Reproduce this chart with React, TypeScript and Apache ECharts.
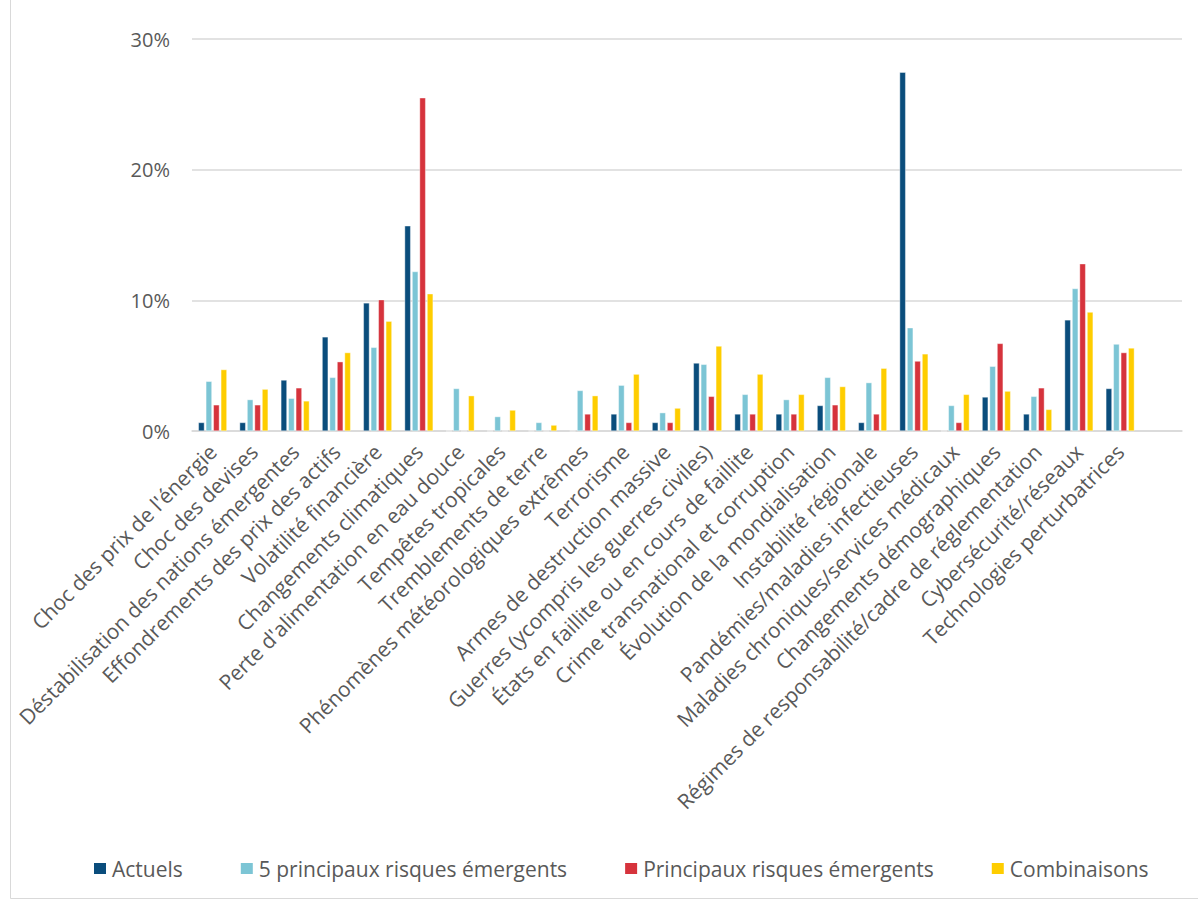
import React, { useEffect, useRef } from "react";
import * as echarts from "echarts";

const categories: string[] = [
  "Choc des prix de l'énergie",
  "Choc des devises",
  "Déstabilisation des nations émergentes",
  "Effondrements des prix des actifs",
  "Volatilité financière",
  "Changements climatiques",
  "Perte d'alimentation en eau douce",
  "Tempêtes tropicales",
  "Tremblements de terre",
  "Phénomènes météorologiques extrêmes",
  "Terrorisme",
  "Armes de destruction massive",
  "Guerres (ycompris les guerres civiles)",
  "États en faillite ou en cours de faillite",
  "Crime transnational et corruption",
  "Évolution de la mondialisation",
  "Instabilité régionale",
  "Pandémies/maladies infectieuses",
  "Maladies chroniques/services médicaux",
  "Changements démographiques",
  "Régimes de responsabilité/cadre de réglementation",
  "Cybersécurité/réseaux",
  "Technologies perturbatrices",
  "",
];

const seriesNames: string[] = [
  "Actuels",
  "5 principaux risques émergents",
  "Principaux risques émergents",
  "Combinaisons",
];

const actuels: (number | null)[] = [0.65, 0.65, 3.9, 7.2, 9.8, 15.7, 0, 0, 0, 0, 1.3, 0.65, 5.2, 1.3, 1.3, 1.95, 0.65, 27.45, 0, 2.6, 1.3, 8.5, 3.25, null];
const top5: (number | null)[] = [3.8, 2.4, 2.5, 4.1, 6.4, 12.2, 3.25, 1.1, 0.65, 3.1, 3.5, 1.4, 5.1, 2.8, 2.4, 4.1, 3.7, 7.9, 1.95, 4.95, 2.65, 10.9, 6.65, null];
const principaux: (number | null)[] = [2.0, 2.0, 3.3, 5.3, 10.05, 25.5, 0, 0, 0, 1.3, 0.65, 0.65, 2.65, 1.3, 1.3, 2.0, 1.3, 5.35, 0.65, 6.7, 3.3, 12.8, 6.0, null];
const combinaisons: (number | null)[] = [4.7, 3.2, 2.3, 6.0, 8.4, 10.5, 2.7, 1.6, 0.45, 2.7, 4.35, 1.75, 6.5, 4.35, 2.8, 3.4, 4.8, 5.9, 2.8, 3.05, 1.65, 9.1, 6.35, null];

const yTicks: number[] = [0, 10, 20, 30];

const colors = ["#0a4d7c", "#7cc5d5", "#d6333c", "#fecd00"];

export default function App() {
  const ref = useRef<HTMLDivElement>(null);
  useEffect(() => {
    document.body.style.margin = "0";
    if (!ref.current) return;
    const chart = echarts.init(ref.current, undefined, { renderer: "svg" });
    const font = "'Open Sans', 'Noto Sans', sans-serif";
    const data = [actuels, top5, principaux, combinaisons];
    chart.setOption({
      animation: false,
      backgroundColor: "#ffffff",
      textStyle: { fontFamily: font },
      color: colors,
      grid: { left: 192, right: 16, top: 39, bottom: 469, containLabel: false },
      legend: {
        left: 92,
        top: 858,
        padding: 0,
        itemWidth: 14,
        itemHeight: 13,
        itemGap: 56,
        icon: "rect",
        textStyle: { fontSize: 21, color: "#595959", fontFamily: font },
        data: seriesNames,
      },
      xAxis: {
        type: "category",
        data: categories,
        axisLine: { lineStyle: { color: "#d9d9d9", width: 1.5 } },
        axisTick: { show: false },
        axisLabel: {
          rotate: 45,
          interval: 0,
          fontSize: 21,
          color: "#595959",
          margin: 17,
          fontFamily: font,
        },
      },
      yAxis: {
        type: "value",
        min: yTicks[0],
        max: yTicks[yTicks.length - 1],
        interval: 10,
        axisLine: { show: false },
        axisTick: { show: false },
        splitLine: { lineStyle: { color: "#d9d9d9", width: 1.5 } },
        axisLabel: {
          formatter: "{value}%",
          fontSize: 20,
          color: "#595959",
          margin: 22,
          fontFamily: font,
        },
      },
      graphic: [
        { type: "line", shape: { x1: 10.5, y1: 0, x2: 10.5, y2: 898.5 }, style: { stroke: "#d9d9d9", lineWidth: 1 } },
        { type: "line", shape: { x1: 10.5, y1: 898.5, x2: 1198, y2: 898.5 }, style: { stroke: "#d9d9d9", lineWidth: 1 } },
      ],
      series: seriesNames.map((name, i) => ({
        name,
        type: "bar",
        data: data[i],
        barGap: "25%",
        barCategoryGap: "31%",
        itemStyle: { color: colors[i], borderColor: "#ffffff", borderWidth: 0.4 },
      })),
    });
    return () => chart.dispose();
  }, []);
  return <div ref={ref} style={{ width: 1198, height: 900 }} />;
}
